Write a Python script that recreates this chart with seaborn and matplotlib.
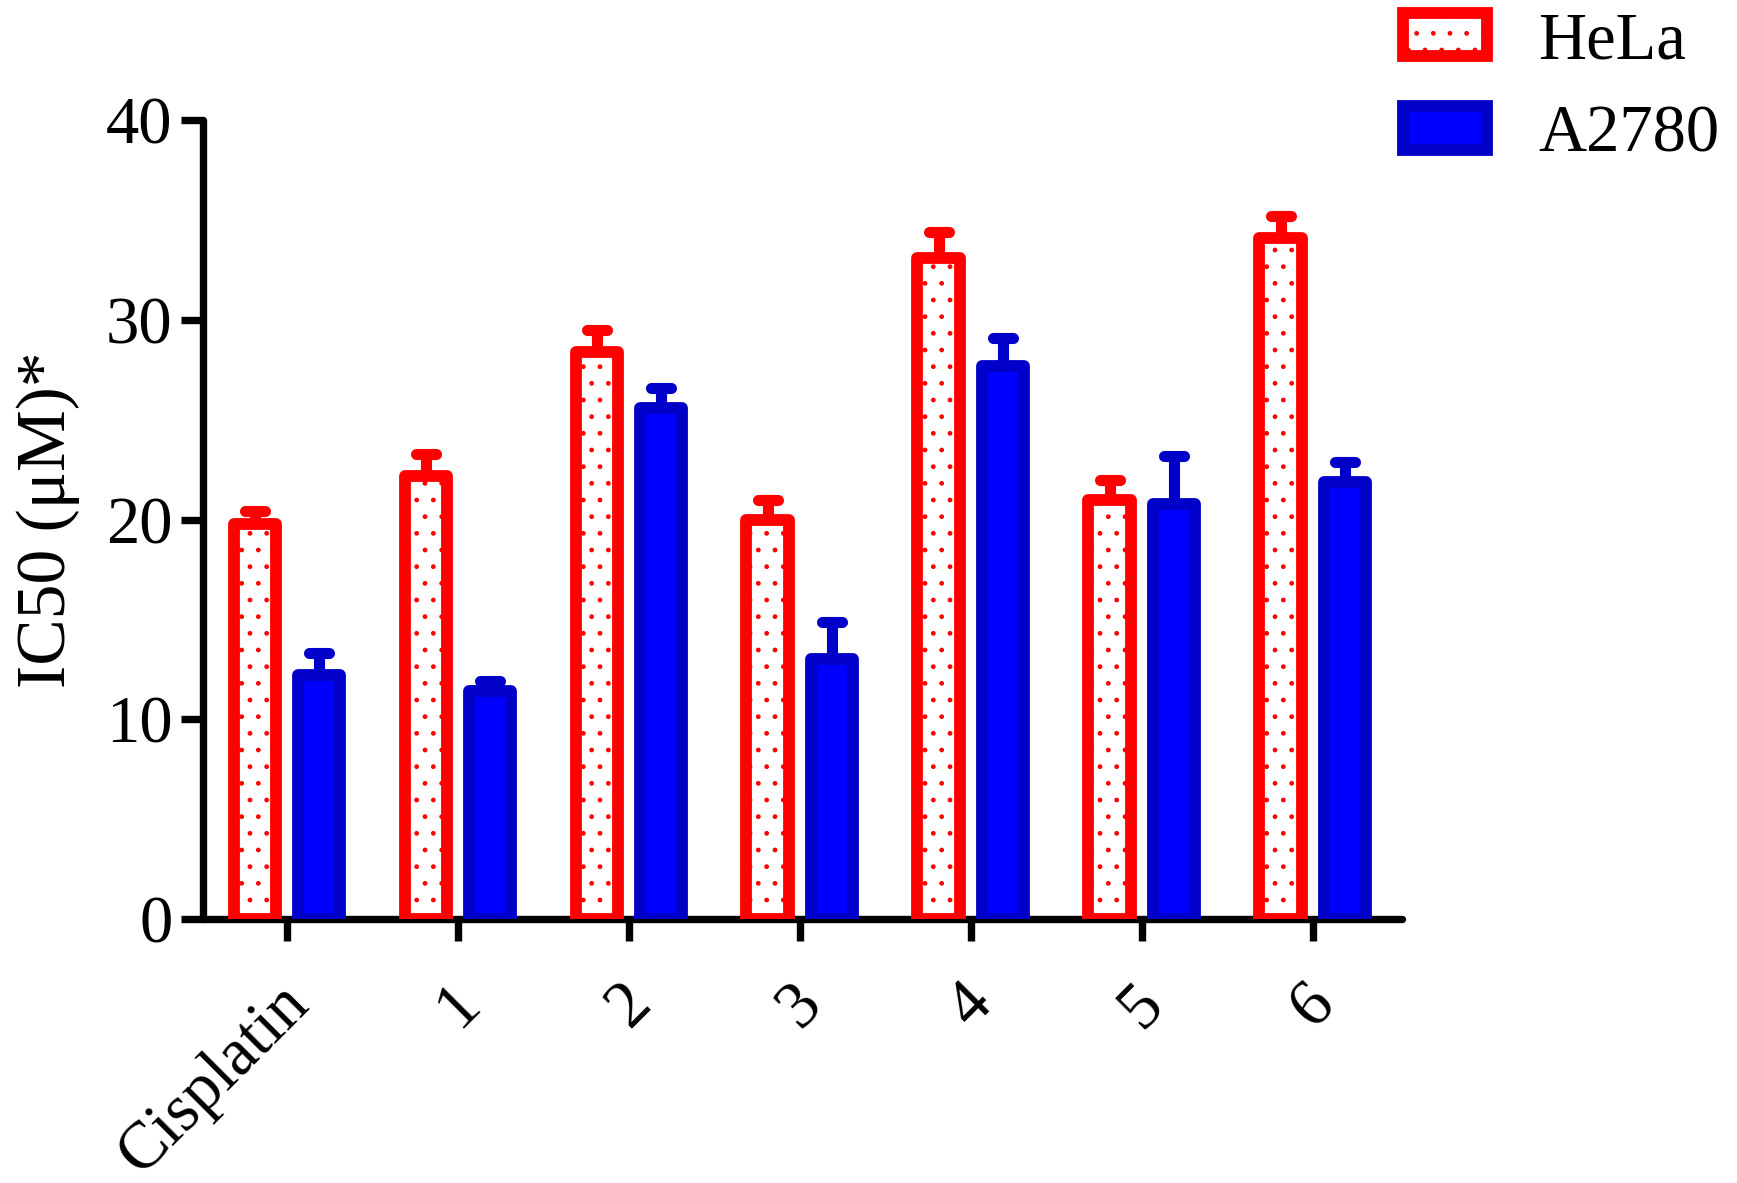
import pandas as pd
import matplotlib
matplotlib.use("Agg")
import matplotlib.pyplot as plt
import matplotlib.transforms as mtransforms
import seaborn as sns

# data
compounds = ["Cisplatin", "1", "2", "3", "4", "5", "6"]
lines = ["HeLa", "A2780"]
hela = [19.8, 22.2, 28.4, 20.0, 33.1, 21.0, 34.1]
a2780 = [12.2, 11.4, 25.6, 13.0, 27.7, 20.8, 21.9]
hela_err = [0.65, 1.1, 1.1, 1.0, 1.3, 1.0, 1.1]
a2780_err = [1.1, 0.5, 1.0, 1.9, 1.4, 2.4, 1.0]

df = pd.DataFrame({
    "compound": compounds * 2,
    "line": ["HeLa"] * 7 + ["A2780"] * 7,
    "ic50": hela + a2780,
    "err": hela_err + a2780_err,
})

sns.set_style("ticks")
plt.rcParams["font.family"] = ["Liberation Serif", "DejaVu Serif"]
plt.rcParams["hatch.linewidth"] = 1.0
for key in ["text.color", "axes.labelcolor", "xtick.color", "ytick.color",
            "axes.edgecolor"]:
    plt.rcParams[key] = "black"

fig = plt.figure(figsize=(17.37, 11.83), dpi=100)
ax = fig.add_axes([0.117, 0.2232, 0.690, 0.675])

sns.barplot(data=df, x="compound", y="ic50", hue="line",
            order=compounds, hue_order=lines,
            width=0.75, gap=0.333, errorbar=None,
            palette={"HeLa": "white", "A2780": "#0000ff"},
            legend=False, ax=ax)

styles = {
    "HeLa": dict(face="white", edge="#ff0000", hatch="."),
    "A2780": dict(face="#0000ff", edge="#0000c8", hatch=None),
}
errs = {"HeLa": hela_err, "A2780": a2780_err}

for cont, name in zip(ax.containers, lines):
    st = styles[name]
    for bar, e in zip(cont, errs[name]):
        bar.set_facecolor(st["face"])
        bar.set_edgecolor(st["edge"])
        bar.set_linewidth(8.5)
        bar.set_joinstyle("round")
        bar.set_zorder(3)
        if st["hatch"]:
            bar.set_hatch(st["hatch"])
        xc = bar.get_x() + bar.get_width() / 2
        top = bar.get_height()
        ax.vlines(xc, top, top + e, color=st["edge"], lw=8, zorder=2)
        ax.hlines(top + e, xc - 0.058, xc + 0.058, color=st["edge"], lw=8,
                  capstyle="round", zorder=2)

ax.set_ylim(0, 40)
ax.set_xlim(-0.49, 6.52)
ax.set_yticks([0, 10, 20, 30, 40])
ax.set_xlabel("")
ax.set_ylabel("IC50 (μM)*", fontsize=50)
ax.yaxis.set_label_coords(-0.1026, 0.5)
sns.despine(ax=ax)
for s in ["left", "bottom"]:
    ax.spines[s].set_linewidth(5.3)
    ax.spines[s].set_capstyle("round")
ax.tick_params(axis="both", width=5.3, length=16, labelsize=48, color="black",
               labelcolor="black")
ax.tick_params(axis="y", pad=6)
ax.tick_params(axis="x", pad=38)
offset = mtransforms.ScaledTranslation(0.12, 0, fig.dpi_scale_trans)
for lab in ax.get_xticklabels():
    lab.set_rotation(45)
    lab.set_ha("right")
    lab.set_va("center")
    lab.set_rotation_mode("anchor")
    lab.set_transform(lab.get_transform() + offset)

ax.legend(handles=[ax.containers[0][0], ax.containers[1][0]], labels=lines,
          loc="upper left", bbox_to_anchor=(0.808, 0.9907),
          bbox_transform=fig.transFigure, frameon=False, fontsize=48,
          handlelength=1.25, handleheight=0.63, handletextpad=0.77,
          labelspacing=0.49, borderpad=0.0, borderaxespad=0)

fig.savefig("out.png", dpi=100)
